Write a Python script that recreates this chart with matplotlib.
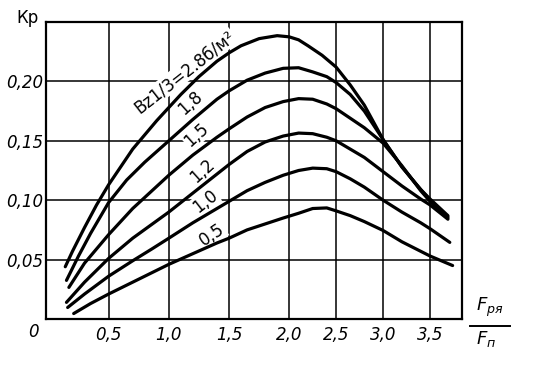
"""
K_p vs F_pя/F_п for several B_z1/3 values (redrawn from a scanned chart).

Output:
- out.png
"""

import matplotlib

matplotlib.use("Agg")
import matplotlib.pyplot as plt
import numpy as np
from matplotlib.lines import Line2D


# curves, one per B value (top to bottom)
X_28 = [0.14, 0.2, 0.3, 0.4, 0.5, 0.7, 0.9, 1.0, 1.1, 1.25, 1.4, 1.5, 1.6, 1.75, 1.9, 2.0,
        2.1, 2.2, 2.35, 2.5, 2.65, 2.8, 3.0, 3.2, 3.4, 3.5, 3.69]
Y_28 = [0.044, 0.057, 0.077, 0.096, 0.113, 0.143, 0.167, 0.178, 0.189, 0.204, 0.217, 0.224,
        0.230, 0.236, 0.2385, 0.2375, 0.235, 0.230, 0.222, 0.212, 0.197, 0.180, 0.151, 0.128,
        0.109, 0.100, 0.086]

X_18 = [0.15, 0.25, 0.35, 0.5, 0.65, 0.8, 1.0, 1.2, 1.4, 1.5, 1.65, 1.8, 1.95, 2.1, 2.25,
        2.4, 2.5, 2.65, 2.8, 3.0, 3.2, 3.4, 3.5, 3.69]
Y_18 = [0.0325, 0.053, 0.072, 0.098, 0.117, 0.132, 0.150, 0.168, 0.185, 0.192, 0.201, 0.207,
        0.211, 0.2115, 0.208, 0.204, 0.199, 0.189, 0.175, 0.151, 0.128, 0.109, 0.101, 0.087]

X_15 = [0.17, 0.3, 0.5, 0.7, 0.85, 1.0, 1.2, 1.4, 1.5, 1.65, 1.8, 1.95, 2.1, 2.25, 2.4,
        2.5, 2.65, 2.8, 3.0, 3.2, 3.4, 3.5, 3.69]
Y_15 = [0.0266, 0.047, 0.071, 0.093, 0.107, 0.121, 0.138, 0.153, 0.160, 0.170, 0.178, 0.183,
        0.1855, 0.185, 0.181, 0.177, 0.169, 0.161, 0.148, 0.129, 0.108, 0.099, 0.085]

X_12 = [0.15, 0.3, 0.5, 0.7, 0.85, 1.0, 1.2, 1.4, 1.5, 1.65, 1.8, 1.95, 2.1, 2.25, 2.4,
        2.5, 2.65, 2.8, 3.0, 3.2, 3.4, 3.5, 3.69]
Y_12 = [0.014, 0.031, 0.051, 0.068, 0.079, 0.090, 0.106, 0.122, 0.130, 0.141, 0.149, 0.154,
        0.1565, 0.156, 0.153, 0.150, 0.143, 0.136, 0.124, 0.112, 0.101, 0.096, 0.084]

X_10 = [0.16, 0.3, 0.5, 0.7, 0.86, 1.0, 1.2, 1.4, 1.5, 1.65, 1.8, 1.95, 2.1, 2.25, 2.4,
        2.5, 2.65, 2.8, 3.0, 3.2, 3.4, 3.5, 3.71]
Y_10 = [0.0097, 0.021, 0.036, 0.049, 0.059, 0.068, 0.081, 0.093, 0.099, 0.108, 0.115, 0.121,
        0.125, 0.127, 0.1265, 0.124, 0.118, 0.111, 0.100, 0.090, 0.081, 0.076, 0.0645]

X_05 = [0.21, 0.35, 0.5, 0.7, 0.86, 1.0, 1.2, 1.4, 1.5, 1.65, 1.8, 1.95, 2.1, 2.25, 2.4,
        2.5, 2.65, 2.8, 3.0, 3.2, 3.4, 3.5, 3.74]
Y_05 = [0.0046, 0.013, 0.021, 0.031, 0.039, 0.046, 0.055, 0.064, 0.068, 0.075, 0.080, 0.085,
        0.089, 0.093, 0.0935, 0.091, 0.087, 0.082, 0.0745, 0.065, 0.057, 0.053, 0.045]

CURVE_LABELS = ["Вz1/3=2.8б/м²", "1,8", "1,5", "1,2", "1,0", "0,5"]

X_TICKS = [0.5, 1.0, 1.5, 2.0, 2.5, 3.0, 3.5]
X_TICK_LABELS = ["0,5", "1,0", "1,5", "2,0", "2,5", "3,0", "3,5"]
Y_TICKS = [0.05, 0.10, 0.15, 0.20]
Y_TICK_LABELS = ["0,05", "0,10", "0,15", "0,20"]

# the printed scale is squeezed above 2.0
SQUEEZE = 0.78


def fwd(x):
    x = np.asarray(x, dtype=float)
    return np.where(x <= 2.0, x, 2.0 + (x - 2.0) * SQUEEZE)


def inv(u):
    u = np.asarray(u, dtype=float)
    return np.where(u <= 2.0, u, 2.0 + (u - 2.0) / SQUEEZE)


fig = plt.figure(figsize=(5.36, 3.83), dpi=100)
ax = fig.add_axes([46 / 536, 64 / 383, 416 / 536, 297 / 383])
ax.set_xscale("function", functions=(fwd, inv))
ax.set_xlim(-0.02, 3.84)
ax.set_ylim(0.0, 0.25)

curves = [(X_28, Y_28), (X_18, Y_18), (X_15, Y_15), (X_12, Y_12), (X_10, Y_10), (X_05, Y_05)]
for xs, ys in curves:
    ax.plot(xs, ys, color="black", linewidth=2.3, solid_capstyle="round",
            solid_joinstyle="round", zorder=4)

ax.set_xticks(X_TICKS)
ax.set_xticklabels(X_TICK_LABELS, fontsize=12, fontstyle="italic")
ax.set_yticks(Y_TICKS)
ax.set_yticklabels(Y_TICK_LABELS, fontsize=12, fontstyle="italic")
ax.tick_params(length=0, pad=5)
ax.tick_params(axis="y", pad=2)
ax.grid(True, color="black", linewidth=1.1)
ax.set_axisbelow(True)
for spine in ax.spines.values():
    spine.set_linewidth(1.6)

# curve labels, placed above each curve
label_pos = [(1.13, 0.208, 38), (1.18, 0.182, 42), (1.23, 0.155, 42),
             (1.28, 0.125, 42), (1.30, 0.099, 38), (1.36, 0.071, 34)]
for text, (lx, ly, rot) in zip(CURVE_LABELS, label_pos):
    ax.text(lx, ly, text, fontsize=12, rotation=rot, rotation_mode="anchor",
            ha="center", va="center", zorder=3,
            bbox=dict(facecolor="white", edgecolor="none", pad=0.6))

fig.text(27 / 536, 1 - 18 / 383, "Кр", fontsize=12, ha="center", va="center")
fig.text(33 / 536, 1 - 332 / 383, "0", fontsize=12, fontstyle="italic", ha="center", va="center")

fig.text(490 / 536, 1 - 307 / 383, r"$F_{ря}$", fontsize=13, ha="center", va="center")
fig.add_artist(Line2D([470 / 536, 510 / 536], [1 - 326 / 383] * 2, color="black", linewidth=1.4))
fig.text(486 / 536, 1 - 339 / 383, r"$F_{п}$", fontsize=13, ha="center", va="center")

fig.savefig("out.png", dpi=100)
